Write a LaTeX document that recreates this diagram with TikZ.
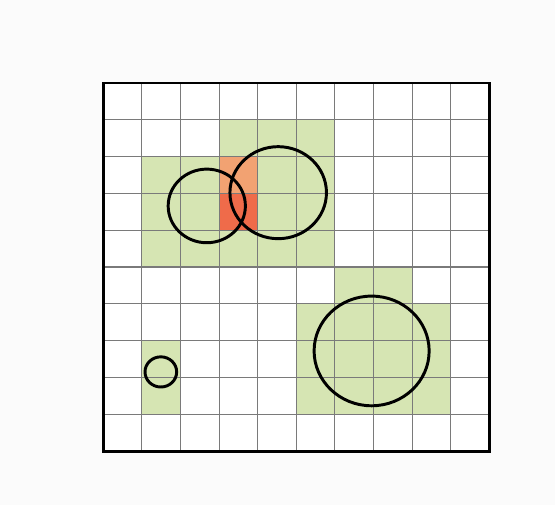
\documentclass[tikz,border=0pt]{standalone}
\usepackage{xcolor}
\usepackage{tikz}
\usetikzlibrary{calc, positioning}

\definecolor{nenxam}{HTML}{FBFBFB}
\definecolor{ovuong}{HTML}{D6E5B3}
\definecolor{ocam}{HTML}{F2A272}
\definecolor{odo}{HTML}{EF6B4A}
\definecolor{luoi}{HTML}{7A7A7A}

\begin{document}
\begin{tikzpicture}[x=0.965cm, y=0.92cm]
    % Khung nền
    \fill[nenxam] (-2.676,-1.467) rectangle (11.70,12.255);
    \useasboundingbox (-2.676,-1.467) rectangle (11.70,12.255);
    \fill[white] (0,0) rectangle (10,10);

    % Các ô màu xanh
    \fill[ovuong] (3,5) rectangle (6,9);
    \fill[ovuong] (1,5) rectangle (3,8);
    \fill[ovuong] (6,1) rectangle (8,5);
    \fill[ovuong] (5,1) rectangle (9,4);
    \fill[ovuong] (1,1) rectangle (2,3);

    % Các ô bị chồng lấn
    \fill[ocam] (3,7) rectangle (4,8);
    \fill[odo] (3,6) rectangle (4,7);

    % Lưới ô vuông
    \foreach \i in {1,...,9} {
        \draw[luoi, line width=0.75pt] (\i,0) -- (\i,10);
        \draw[luoi, line width=0.75pt] (0,\i) -- (10,\i);
    }
    \draw[line width=2.1pt] (0,0) rectangle (10,10);

    % Các đường tròn
    \draw[line width=2.1pt] (2.68,6.66) circle (1.0);
    \draw[line width=2.1pt] (4.53,7.02) circle (1.25);
    \draw[line width=2.1pt] (6.95,2.72) circle (1.49);
    \draw[line width=2.1pt] (1.49,2.15) circle (0.41);
\end{tikzpicture}
\end{document}
